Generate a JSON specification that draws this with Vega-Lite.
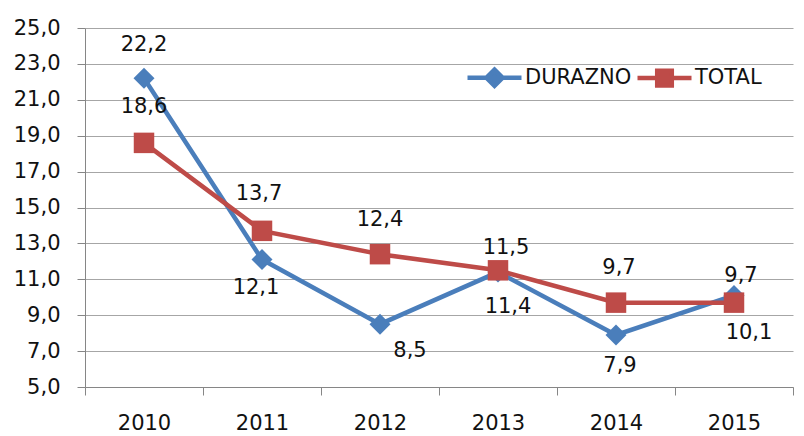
{
  "$schema": "https://vega.github.io/schema/vega-lite/v6.json",
  "width": 708,
  "height": 359,
  "autosize": {"type": "none"},
  "padding": {"left": 85, "top": 28, "right": 11, "bottom": 49},
  "background": "white",
  "config": {
    "locale": {"number": {"decimal": ",", "thousands": ".", "grouping": [3], "currency": ["", " €"]}},
    "font": "DejaVu Sans",
    "view": {"stroke": null},
    "axis": {
      "labelFont": "DejaVu Sans",
      "labelFontSize": 21,
      "labelColor": "#111111",
      "domainColor": "#868686",
      "tickColor": "#868686",
      "gridColor": "#A6A6A6",
      "tickSize": 8,
      "title": null
    },
    "legend": {"labelFont": "DejaVu Sans", "labelFontSize": 21, "labelColor": "#111111"}
  },
  "data": {
    "values": [
      {"year": "2010", "serie": "DURAZNO", "value": 22.2},
      {"year": "2011", "serie": "DURAZNO", "value": 12.1},
      {"year": "2012", "serie": "DURAZNO", "value": 8.5},
      {"year": "2013", "serie": "DURAZNO", "value": 11.4},
      {"year": "2014", "serie": "DURAZNO", "value": 7.9},
      {"year": "2015", "serie": "DURAZNO", "value": 10.1},
      {"year": "2010", "serie": "TOTAL", "value": 18.6},
      {"year": "2011", "serie": "TOTAL", "value": 13.7},
      {"year": "2012", "serie": "TOTAL", "value": 12.4},
      {"year": "2013", "serie": "TOTAL", "value": 11.5},
      {"year": "2014", "serie": "TOTAL", "value": 9.7},
      {"year": "2015", "serie": "TOTAL", "value": 9.7}
    ]
  },
  "encoding": {
    "x": {
      "field": "year",
      "type": "ordinal",
      "scale": {"type": "band", "paddingInner": 0, "paddingOuter": 0},
      "axis": {"labelAngle": 0, "tickBand": "extent", "labelPadding": 17, "grid": false}
    },
    "y": {
      "field": "value",
      "type": "quantitative",
      "scale": {"domain": [5, 25], "nice": false, "zero": false},
      "axis": {"values": [5, 7, 9, 11, 13, 15, 17, 19, 21, 23, 25], "format": ".1f", "grid": true, "labelPadding": 17}
    }
  },
  "layer": [
    {
      "transform": [{"filter": "datum.serie === 'DURAZNO'"}],
      "mark": {"type": "line", "strokeWidth": 4.5},
      "encoding": {
        "color": {
          "field": "serie",
          "type": "nominal",
          "scale": {"domain": ["DURAZNO", "TOTAL"], "range": ["#4A7EBB", "#BE4B48"]},
          "legend": {
            "title": null,
            "orient": "none",
            "legendX": 380,
            "legendY": 20,
            "direction": "horizontal",
            "labelOffset": 1,
            "columnPadding": -4,
            "symbolSize": 2916,
            "symbolStrokeWidth": 4.5,
            "encode": {
              "symbols": {
                "update": {
                  "shape": {"signal": "datum.value === 'DURAZNO' ? 'M-1,0H1M0,-0.3L0.3,0L0,0.3L-0.3,0Z' : 'M-1,0H1M-0.27,-0.27H0.27V0.27H-0.27Z'"},
                  "fill": {"signal": "datum.value === 'DURAZNO' ? '#4A7EBB' : '#BE4B48'"},
                  "stroke": {"signal": "datum.value === 'DURAZNO' ? '#4A7EBB' : '#BE4B48'"},
                  "strokeWidth": {"value": 4.5},
                  "size": {"value": 2916}
                }
              }
            }
          }
        }
      }
    },
    {
      "transform": [{"filter": "datum.serie === 'DURAZNO'"}],
      "mark": {"type": "point", "shape": "diamond", "filled": true, "size": 440, "opacity": 1, "color": "#4A7EBB"}
    },
    {
      "transform": [{"filter": "datum.serie === 'TOTAL'"}],
      "mark": {"type": "line", "strokeWidth": 4.5},
      "encoding": {"color": {"field": "serie", "type": "nominal"}}
    },
    {
      "transform": [{"filter": "datum.serie === 'TOTAL'"}],
      "mark": {"type": "point", "shape": "square", "filled": true, "size": 420, "opacity": 1, "color": "#BE4B48"}
    },
    {
      "encoding": {"text": {"field": "value", "type": "quantitative", "format": ".1f"}},
      "layer": [
        {"transform": [{"filter": "datum.serie === 'DURAZNO' && datum.year === '2010'"}], "mark": {"type": "text", "fontSize": 21, "color": "#111111", "dy": -33}},
        {"transform": [{"filter": "datum.serie === 'DURAZNO' && datum.year === '2011'"}], "mark": {"type": "text", "fontSize": 21, "color": "#111111", "dy": 28, "dx": -6}},
        {"transform": [{"filter": "datum.serie === 'DURAZNO' && datum.year === '2012'"}], "mark": {"type": "text", "fontSize": 21, "color": "#111111", "dy": 27, "dx": 30}},
        {"transform": [{"filter": "datum.serie === 'DURAZNO' && datum.year === '2013'"}], "mark": {"type": "text", "fontSize": 21, "color": "#111111", "dy": 35, "dx": 10}},
        {"transform": [{"filter": "datum.serie === 'DURAZNO' && datum.year === '2014'"}], "mark": {"type": "text", "fontSize": 21, "color": "#111111", "dy": 31, "dx": 4}},
        {"transform": [{"filter": "datum.serie === 'DURAZNO' && datum.year === '2015'"}], "mark": {"type": "text", "fontSize": 21, "color": "#111111", "dy": 38, "dx": 15}},
        {"transform": [{"filter": "datum.serie === 'TOTAL' && datum.year === '2010'"}], "mark": {"type": "text", "fontSize": 21, "color": "#111111", "dy": -36}},
        {"transform": [{"filter": "datum.serie === 'TOTAL' && datum.year === '2011'"}], "mark": {"type": "text", "fontSize": 21, "color": "#111111", "dy": -37, "dx": -3}},
        {"transform": [{"filter": "datum.serie === 'TOTAL' && datum.year === '2012'"}], "mark": {"type": "text", "fontSize": 21, "color": "#111111", "dy": -34}},
        {"transform": [{"filter": "datum.serie === 'TOTAL' && datum.year === '2013'"}], "mark": {"type": "text", "fontSize": 21, "color": "#111111", "dy": -22, "dx": 8}},
        {"transform": [{"filter": "datum.serie === 'TOTAL' && datum.year === '2014'"}], "mark": {"type": "text", "fontSize": 21, "color": "#111111", "dy": -35, "dx": 3}},
        {"transform": [{"filter": "datum.serie === 'TOTAL' && datum.year === '2015'"}], "mark": {"type": "text", "fontSize": 21, "color": "#111111", "dy": -27, "dx": 7}}
      ]
    }
  ]
}
